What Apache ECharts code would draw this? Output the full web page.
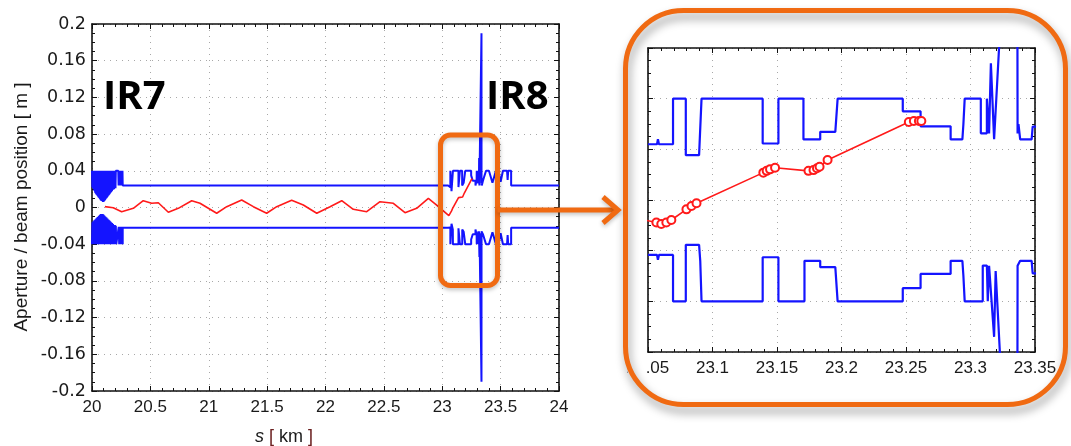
<!DOCTYPE html>
<html><head><meta charset="utf-8">
<script src="https://cdn.jsdelivr.net/npm/echarts@6/dist/echarts.min.js"></script>
<style>html,body{margin:0;padding:0;background:#fff}#c{width:1071px;height:446px}</style>
</head><body><div id="c"></div>
<script>
// ---------- tick labels ----------
const mainXTicks = [20, 20.5, 21, 21.5, 22, 22.5, 23, 23.5, 24];
const mainYTicks = [-0.2, -0.16, -0.12, -0.08, -0.04, 0, 0.04, 0.08, 0.12, 0.16, 0.2];
const insetXTicks = [23.05, 23.1, 23.15, 23.2, 23.25, 23.3, 23.35];
const insetYTicks = [-0.06, -0.04, -0.02, 0, 0.02, 0.04, 0.06];

// ---------- aperture (upper) ----------
const apUpIR7 = [[20.000,0.040],[20.003,0.022],[20.006,0.040],[20.009,0.021],[20.012,0.040],[20.015,0.020],[20.018,0.040],[20.021,0.018],[20.024,0.040],[20.027,0.016],[20.030,0.040],[20.033,0.015],[20.036,0.040],[20.039,0.014],[20.042,0.040],[20.045,0.013],[20.048,0.040],[20.051,0.012],[20.054,0.040],[20.057,0.011],[20.060,0.040],[20.063,0.010],[20.066,0.040],[20.069,0.009],[20.072,0.040],[20.075,0.008],[20.078,0.040],[20.081,0.007],[20.084,0.040],[20.087,0.007],[20.090,0.040],[20.093,0.006],[20.096,0.040],[20.099,0.006],[20.102,0.040],[20.105,0.007],[20.108,0.040],[20.111,0.008],[20.114,0.040],[20.117,0.009],[20.120,0.040],[20.123,0.010],[20.126,0.040],[20.129,0.011],[20.132,0.040],[20.135,0.012],[20.138,0.040],[20.141,0.013],[20.144,0.040],[20.147,0.014],[20.150,0.040],[20.153,0.015],[20.156,0.040],[20.159,0.016],[20.162,0.040],[20.165,0.017],[20.168,0.040],[20.171,0.018],[20.174,0.040],[20.177,0.019],[20.180,0.040],[20.183,0.020],[20.186,0.040],[20.189,0.020],[20.192,0.040],[20.195,0.021],[20.198,0.040],[20.201,0.021],[20.204,0.040],[20.225,0.040],[20.228,0.024],[20.231,0.040],[20.234,0.024],[20.237,0.040],[20.240,0.024],[20.243,0.040],[20.246,0.024],[20.249,0.040],[20.252,0.024],[20.255,0.040],[20.258,0.024],[20.261,0.040],[20.263,0.024]];
const apUpArc = [[20.263,0.024],[23.05,0.024]];
const apUpIR8 = [[23.050,0.022],[23.057,0.022],[23.0577,0.024],[23.0585,0.022],[23.0694,0.022],[23.0694,0.040],[23.0793,0.040],[23.0793,0.0177],[23.0896,0.0177],[23.0915,0.040],[23.1389,0.040],[23.1389,0.0223],[23.1511,0.0223],[23.1511,0.040],[23.1705,0.040],[23.1705,0.0239],[23.1835,0.0239],[23.1835,0.0269],[23.1952,0.0269],[23.197,0.040],[23.2475,0.040],[23.2475,0.035],[23.2613,0.035],[23.2613,0.0291],[23.2846,0.0291],[23.2846,0.0239],[23.2937,0.0239],[23.2945,0.030],[23.2955,0.040],[23.308,0.040],[23.308,0.0263],[23.3127,0.0263],[23.3127,0.040],[23.3144,0.0263],[23.3158,0.054],[23.3183,0.024],[23.336,0.19],[23.3362,0.19],[23.3365,0.0263],[23.3372,0.030],[23.3385,0.0239],[23.3474,0.0239],[23.3482,0.029],[23.3508,0.029]];
const apUpIR8R = [[23.352,0.029],[23.375,0.040],[23.40,0.040],[23.43,0.027],[23.46,0.040],[23.48,0.040],[23.50,0.028],[23.52,0.040],[23.555,0.040],[23.56,0.030],[23.565,0.040],[23.59,0.040],[23.59,0.024],[24.0,0.024]];

// ---------- aperture (lower) ----------
const apLoIR7 = [[20.000,-0.040],[20.004,-0.016],[20.008,-0.040],[20.012,-0.015],[20.016,-0.040],[20.020,-0.014],[20.024,-0.040],[20.028,-0.013],[20.032,-0.040],[20.036,-0.012],[20.040,-0.040],[20.044,-0.011],[20.048,-0.040],[20.052,-0.010],[20.056,-0.040],[20.060,-0.009],[20.064,-0.040],[20.068,-0.008],[20.072,-0.040],[20.076,-0.007],[20.080,-0.040],[20.084,-0.007],[20.088,-0.040],[20.092,-0.007],[20.096,-0.040],[20.100,-0.008],[20.104,-0.040],[20.108,-0.009],[20.112,-0.040],[20.116,-0.010],[20.120,-0.040],[20.124,-0.011],[20.128,-0.040],[20.132,-0.012],[20.136,-0.040],[20.140,-0.013],[20.144,-0.040],[20.148,-0.014],[20.152,-0.040],[20.156,-0.015],[20.160,-0.040],[20.164,-0.016],[20.168,-0.040],[20.172,-0.017],[20.176,-0.040],[20.180,-0.018],[20.184,-0.040],[20.188,-0.019],[20.192,-0.040],[20.196,-0.019],[20.200,-0.040],[20.204,-0.020],[20.208,-0.040],[20.225,-0.040],[20.229,-0.021],[20.233,-0.040],[20.237,-0.021],[20.241,-0.040],[20.245,-0.021],[20.249,-0.040],[20.253,-0.021],[20.257,-0.040],[20.261,-0.021],[20.263,-0.040],[20.263,-0.022]];
const apLoArc = [[20.263,-0.022],[23.05,-0.022]];
const apLoIR8 = [[23.050,-0.0217],[23.057,-0.0217],[23.0577,-0.0236],[23.0585,-0.0217],[23.0694,-0.0217],[23.0694,-0.040],[23.0793,-0.040],[23.0793,-0.0177],[23.0896,-0.0177],[23.0905,-0.024],[23.0915,-0.040],[23.1389,-0.040],[23.1389,-0.0226],[23.1511,-0.0226],[23.1511,-0.040],[23.1713,-0.040],[23.1713,-0.024],[23.1835,-0.024],[23.1835,-0.0265],[23.1952,-0.0265],[23.197,-0.040],[23.2475,-0.040],[23.2475,-0.0348],[23.2613,-0.0348],[23.2613,-0.0292],[23.2846,-0.0292],[23.2846,-0.024],[23.2937,-0.024],[23.2945,-0.030],[23.2955,-0.040],[23.3095,-0.040],[23.3095,-0.0259],[23.3127,-0.0259],[23.3134,-0.040],[23.3144,-0.026],[23.3158,-0.026],[23.3183,-0.054],[23.3195,-0.028],[23.336,-0.19],[23.3362,-0.19],[23.3365,-0.026],[23.3385,-0.024],[23.3474,-0.024],[23.3482,-0.029],[23.3508,-0.029]];
const apLoIR8R = [[23.352,-0.029],[23.375,-0.040],[23.40,-0.040],[23.43,-0.027],[23.46,-0.040],[23.48,-0.040],[23.50,-0.028],[23.52,-0.040],[23.555,-0.040],[23.56,-0.030],[23.565,-0.040],[23.59,-0.040],[23.59,-0.022],[24.0,-0.022]];

// ---------- beam position ----------
const orbitArc = [[20.111,0.001],[20.182,-0.0002],[20.254,-0.0046],[20.354,-0.0009],[20.439,0.0074],[20.511,0.0046],[20.568,0.0052],[20.654,-0.0052],[20.739,-0.0009],[20.854,0.0074],[20.925,0.0046],[21.068,-0.0063],[21.154,0.0009],[21.282,0.0082],[21.382,0.0009],[21.496,-0.0063],[21.582,0.0009],[21.71,0.0078],[21.810,0.0027],[21.925,-0.0063],[22.039,0.0009],[22.139,0.0074],[22.238,-0.002],[22.353,-0.0046],[22.467,0.0063],[22.581,0.0046],[22.681,-0.0057],[22.781,-0.0009],[22.881,0.010],[22.952,0.0027]];
const orbitIR8 = [[23.0565,-0.0089],[23.0603,-0.0095],[23.0642,-0.0089],[23.0681,-0.0079],[23.0798,-0.0037],[23.0837,-0.0024],[23.0876,-0.0013],[23.1394,0.0108],[23.142,0.0115],[23.1446,0.0121],[23.1485,0.0127],[23.1744,0.0115],[23.1783,0.0118],[23.181,0.0125],[23.183,0.0131],[23.1892,0.0158],[23.2522,0.0308],[23.2561,0.0312],[23.26,0.0312],[23.2619,0.0312]];

// ---------- build ----------
const BLUE = '#1414ff', RED = '#ff1a1a', ORANGE = '#f06a12', AX = '#111';
const mainUpper = apUpIR7.concat(apUpArc, apUpIR8, apUpIR8R);
const mainLower = apLoIR7.concat(apLoArc, apLoIR8, apLoIR8R);
const orbitAll = orbitArc.concat(orbitIR8);
const fmt = v => String(+v.toFixed(2));

function axis(kind, gi, pos, ticks, o) {
  return {
    type: 'value', gridIndex: gi, position: pos,
    min: ticks[0], max: ticks[ticks.length - 1], interval: +(ticks[1] - ticks[0]).toFixed(4),
    axisLine: { show: true, onZero: false, lineStyle: { color: AX, width: 1.6 } },
    axisTick: { show: true, inside: true, length: 5, lineStyle: { color: AX, width: 1 } },
    minorTick: { show: true, splitNumber: o.minor, length: 3, lineStyle: { color: AX, width: 1 } },
    splitLine: { show: !!o.grid, lineStyle: { color: '#a8a8a8', width: 1, type: [1, 5] } },
    axisLabel: o.label ? Object.assign({ show: true, showMinLabel: true, showMaxLabel: true, color: '#1a1a1a', formatter: fmt }, o.label) : { show: false }
  };
}

const option = {
  backgroundColor: '#fff',
  animation: false,
  grid: [
    { left: 92, top: 24, width: 467, height: 367, show: false },
    { left: 648, top: 48, width: 387, height: 304, show: false }
  ],
  xAxis: [
    axis('x', 0, 'bottom', mainXTicks, { minor: 5, grid: true, label: { margin: 8, fontSize: 17, fontFamily: 'Liberation Sans' } }),
    axis('x', 0, 'top', mainXTicks, { minor: 5 }),
    axis('x', 1, 'bottom', insetXTicks, { minor: 5, grid: true, label: { margin: 8, fontSize: 17, fontFamily: 'Liberation Sans' } }),
    axis('x', 1, 'top', insetXTicks, { minor: 5 })
  ],
  yAxis: [
    axis('y', 0, 'left', mainYTicks, { minor: 4, grid: true, label: { margin: 6, fontSize: 17.5, fontFamily: 'DejaVu Sans' } }),
    axis('y', 0, 'right', mainYTicks, { minor: 4 }),
    axis('y', 1, 'left', insetYTicks, { minor: 4, grid: true }),
    axis('y', 1, 'right', insetYTicks, { minor: 4 })
  ],
  series: [
    { type: 'line', xAxisIndex: 0, yAxisIndex: 0, data: mainUpper, symbol: 'none', lineStyle: { color: BLUE, width: 2 }, itemStyle: { color: BLUE }, z: 2 },
    { type: 'line', xAxisIndex: 0, yAxisIndex: 0, data: mainLower, symbol: 'none', lineStyle: { color: BLUE, width: 2 }, itemStyle: { color: BLUE }, z: 2 },
    { type: 'line', xAxisIndex: 0, yAxisIndex: 0, data: orbitAll, symbol: 'none', lineStyle: { color: RED, width: 1.6 }, itemStyle: { color: RED }, z: 3 },
    { type: 'line', xAxisIndex: 2, yAxisIndex: 2, data: apUpIR8, symbol: 'none', clip: true, lineStyle: { color: BLUE, width: 2.2 }, itemStyle: { color: BLUE }, z: 2 },
    { type: 'line', xAxisIndex: 2, yAxisIndex: 2, data: apLoIR8, symbol: 'none', clip: true, lineStyle: { color: BLUE, width: 2.2 }, itemStyle: { color: BLUE }, z: 2 },
    { type: 'line', xAxisIndex: 2, yAxisIndex: 2, data: orbitAll, clip: true, symbol: 'emptyCircle', symbolSize: 8, showSymbol: true, showAllSymbol: true,
      lineStyle: { color: RED, width: 1.6 }, itemStyle: { color: RED, borderColor: RED, borderWidth: 1.4 }, z: 3 }
  ],
  graphic: [
    { type: 'rect', z: 90, shape: { x: 628, y: 356, width: 18.5, height: 26 }, style: { fill: '#fff' } },
    { type: 'rect', z: 100, shape: { x: 625.5, y: 10.5, width: 440, height: 394, r: 58 },
      style: { fill: null, stroke: ORANGE, lineWidth: 5, shadowBlur: 10, shadowOffsetX: 2, shadowOffsetY: 6, shadowColor: 'rgba(0,0,0,0.4)' } },
    { type: 'rect', z: 100, shape: { x: 440.5, y: 135, width: 57, height: 150.5, r: 10 },
      style: { fill: null, stroke: ORANGE, lineWidth: 5, shadowBlur: 4, shadowOffsetY: 2, shadowColor: 'rgba(0,0,0,0.25)' } },
    { type: 'line', z: 100, shape: { x1: 497.5, y1: 210, x2: 617, y2: 210 },
      style: { stroke: ORANGE, lineWidth: 5, shadowBlur: 4, shadowOffsetY: 2, shadowColor: 'rgba(0,0,0,0.25)' } },
    { type: 'polyline', z: 100, shape: { points: [[603, 197], [618, 210], [603, 223]] },
      style: { fill: null, stroke: ORANGE, lineWidth: 5, lineJoin: 'miter', shadowBlur: 4, shadowOffsetY: 2, shadowColor: 'rgba(0,0,0,0.25)' } },
    { type: 'text', z: 101, style: { text: 'IR7', x: 103, y: 97.5, fill: '#000', font: 'bold 40px "Open Sans"', textAlign: 'left', textVerticalAlign: 'middle' } },
    { type: 'text', z: 101, style: { text: 'IR8', x: 486, y: 97.5, fill: '#000', font: 'bold 40px "Open Sans"', textAlign: 'left', textVerticalAlign: 'middle' } },
    { type: 'text', z: 101, x: 22, y: 207, rotation: Math.PI / 2,
      style: { text: 'Aperture / beam position [ m ]', x: 0, y: 0, fill: '#1a1a1a', font: '19px "Liberation Sans"', textAlign: 'center', textVerticalAlign: 'middle' } },
    { type: 'text', z: 101,
      style: { text: '{i|s} {b|[} km {b|]}', x: 284, y: 437, fill: '#1a1a1a', font: '18px "Liberation Sans"', textAlign: 'center', textVerticalAlign: 'middle',
        rich: { i: { font: 'italic 18px "Liberation Sans"', fill: '#1a1a1a' }, b: { font: '18px "Liberation Sans"', fill: '#6b2020' } } } }
  ]
};

const chart = echarts.init(document.getElementById('c'), null, { renderer: 'canvas' });
chart.setOption(option);
</script></body></html>
